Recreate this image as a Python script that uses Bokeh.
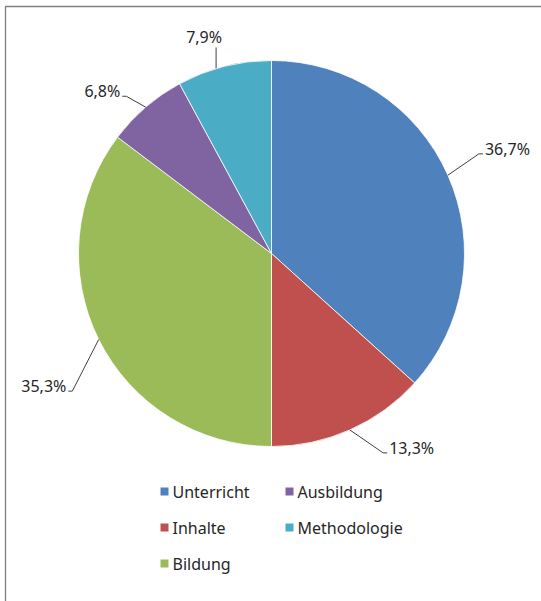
import math
from bokeh.plotting import figure
from bokeh.models import Range1d
from bokeh.core.properties import value
from bokeh.embed import file_html
from bokeh.resources import INLINE

# ---- data ----
categories = ["Unterricht", "Inhalte", "Bildung", "Ausbildung", "Methodologie"]
shares = [36.7, 13.3, 35.3, 6.8, 7.9]
labels = ["36,7%", "13,3%", "35,3%", "6,8%", "7,9%"]
colors = ["#4F81BD", "#C0504D", "#9BBB59", "#8064A2", "#4BACC6"]

# ---- layout (label nudges relative to radial elbow, pixels) ----
label_nudge = [(1, -8), (20, -7), (3, 37), (2, 14), (0, 0)]

W, H = 541, 601
FONT = value("Noto Sans")
FS = "16px"
TXT = "#262626"

def Y(py):
    return H - py

p = figure(width=W, height=H, x_range=Range1d(0, W), y_range=Range1d(0, H),
           output_backend="svg", toolbar_location=None, min_border=0)
p.axis.visible = False
p.grid.visible = False
p.outline_line_color = None
p.background_fill_color = "white"

# frame (partially visible)
p.line([5, 5, W + 5], [Y(H + 5), Y(6), Y(6)], line_color="#7f7f7f", line_width=1.3)

cx, cy, R = 271, 253, 193
total = sum(shares)
cum = 0.0
for cat, s, lab, col, (ndx, ndy) in zip(categories, shares, labels, colors, label_nudge):
    f0 = cum / total
    f1 = (cum + s) / total
    cum += s
    start = math.pi / 2 - 2 * math.pi * f1
    end = math.pi / 2 - 2 * math.pi * f0
    p.wedge(x=cx, y=Y(cy), radius=R, start_angle=start, end_angle=end,
            direction="anticlock", fill_color=col, line_color="white", line_width=0.8)

    th = 2 * math.pi * (f0 + f1) / 2
    sx, cy_ = math.sin(th), math.cos(th)
    px, py = cx + R * sx, cy - R * cy_
    Re = R * 1.17
    ex, ey = cx + Re * sx + ndx, cy - Re * cy_ + ndy
    if abs(sx) < 0.35:
        ex = px - 8
        ey = 47
        p.line([ex, ex], [Y(py + 2), Y(ey)], line_color="#404040", line_width=1)
        p.text(x=[ex - 12], y=[Y(ey - 11)], text=[lab], text_font=FONT,
               text_font_size=FS, text_color=TXT, text_align="center",
               text_baseline="middle")
    else:
        d = 4 if sx > 0 else -4
        p.line([px, ex, ex + d], [Y(py), Y(ey), Y(ey)], line_color="#404040", line_width=1)
        p.text(x=[ex + d + (2 if sx > 0 else -2)], y=[Y(ey - 5)], text=[lab], text_font=FONT,
               text_font_size=FS, text_color=TXT,
               text_align="left" if sx > 0 else "right", text_baseline="middle")

# legend (column-major, 3 rows x 2 cols)
nrows = 3
lx0, col_w = 160, 125
ly0, row_h = 491, 36
for i, (cat, col) in enumerate(zip(categories, colors)):
    c, r = divmod(i, nrows)
    x = lx0 + c * col_w
    y = ly0 + r * row_h
    p.rect(x=[x + 4], y=[Y(y)], width=8, height=8, fill_color=col, line_color=None)
    p.text(x=[x + 12], y=[Y(y)], text=[cat], text_font=FONT, text_font_size=FS,
           text_color=TXT, text_align="left", text_baseline="middle")

open("out.html", "w").write(file_html(p, INLINE))
